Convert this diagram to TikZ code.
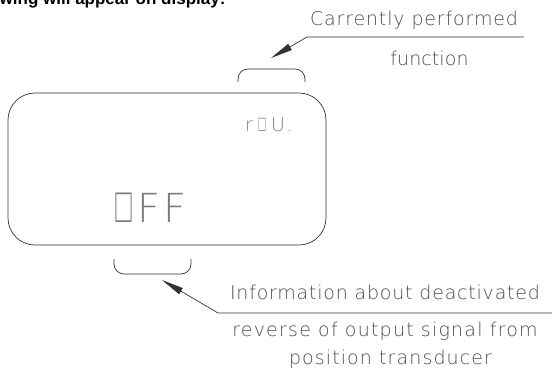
\documentclass[tikz,border=0pt]{standalone}
\usepackage{fontspec}
\usepackage{amssymb}
\usetikzlibrary{arrows.meta,positioning}
\IfFontExistsTF{DejaVu Sans ExtraLight}
  {\newfontfamily\cadfont{DejaVu Sans ExtraLight}}
  {\newfontfamily\cadfont{DejaVu Sans}}
\newfontfamily\headfont{Liberation Sans}
\definecolor{linegrey}{HTML}{333333}
\definecolor{textgrey}{HTML}{4D4D4D}
\definecolor{seggrey}{HTML}{7A7A7A}
\newcommand{\segbox}[2]{\resizebox{#1}{#2}{$\square$}}

\begin{document}
\begin{tikzpicture}[x=1pt, y=-1pt, >={Triangle[length=22pt,width=7pt]},
  note/.style={inner sep=0pt, anchor=base, text=textgrey},
  seg/.style={inner sep=0pt, anchor=base west, text=seggrey},
  bracket/.style={draw=linegrey, line width=0.7pt, rounded corners=10pt},
  leader/.style={draw=linegrey, line width=0.7pt, ->}]
  \useasboundingbox (0,0) rectangle (552,368);

  % heading cut off at the top
  \begin{scope}
    \clip (0,0) rectangle (552,368);
    \node[anchor=base west, inner sep=0pt,
      font=\headfont\bfseries\fontsize{17}{20}\selectfont] (head) at (-0.5,4.2)
      {wing will appear on display:};
  \end{scope}

  % display
  \node[draw=linegrey, line width=0.7pt, rounded corners=27pt,
    minimum width=318pt, minimum height=152pt] (disp) at (167,169) {};
  \node[seg, font=\cadfont\fontsize{19}{22}\selectfont\addfontfeature{LetterSpace=10}]
    (mode) at (245,131) {r\hspace{5pt}\segbox{8pt}{13pt}\hspace{5pt}U\hspace{2pt}.};
  \node[seg, font=\cadfont\fontsize{40}{44}\selectfont\addfontfeature{LetterSpace=8}]
    (state) at (114,222) {\segbox{19pt}{29pt}\hspace{4pt}FF};

  % brackets
  \coordinate (upL) at (238,82);
  \coordinate (upR) at (305,82);
  \coordinate (loL) at (114,259);
  \coordinate (loR) at (191,259);
  \draw[bracket] (upL) -- (238,69) -- (305,69) -- (upR);
  \draw[bracket] (loL) -- (114,274) -- (191,274) -- (loR);

  % leaders
  \coordinate (upEnd) at (524,37);
  \coordinate (upKnee) at (307,37);
  \coordinate (upTip) at (271,58);
  \coordinate (loEnd) at (552,313);
  \coordinate (loKnee) at (218,313);
  \coordinate (loTip) at (162,280);
  \draw[leader] (upEnd) -- (upKnee) -- (upTip);
  \draw[leader] (loEnd) -- (loKnee) -- (loTip);

  % notes
  \node[note, font=\cadfont\fontsize{19}{22}\selectfont\addfontfeature{LetterSpace=4.5}]
    (curr) at (414,25) {Carrently performed};
  \node[note, font=\cadfont\fontsize{19}{22}\selectfont\addfontfeature{LetterSpace=0.5}]
    (func) at (429.5,65) {function};
  \node[note, font=\cadfont\fontsize{19}{22}\selectfont\addfontfeature{LetterSpace=4.1}]
    (info) at (385,299) {Information about deactivated};
  \node[note, font=\cadfont\fontsize{19}{22}\selectfont\addfontfeature{LetterSpace=6.4}]
    (rev) at (385,336) {reverse of output signal from};
  \node[note, font=\cadfont\fontsize{19}{22}\selectfont\addfontfeature{LetterSpace=5.8}]
    (pos) at (390.5,364) {position transducer};
\end{tikzpicture}
\end{document}
